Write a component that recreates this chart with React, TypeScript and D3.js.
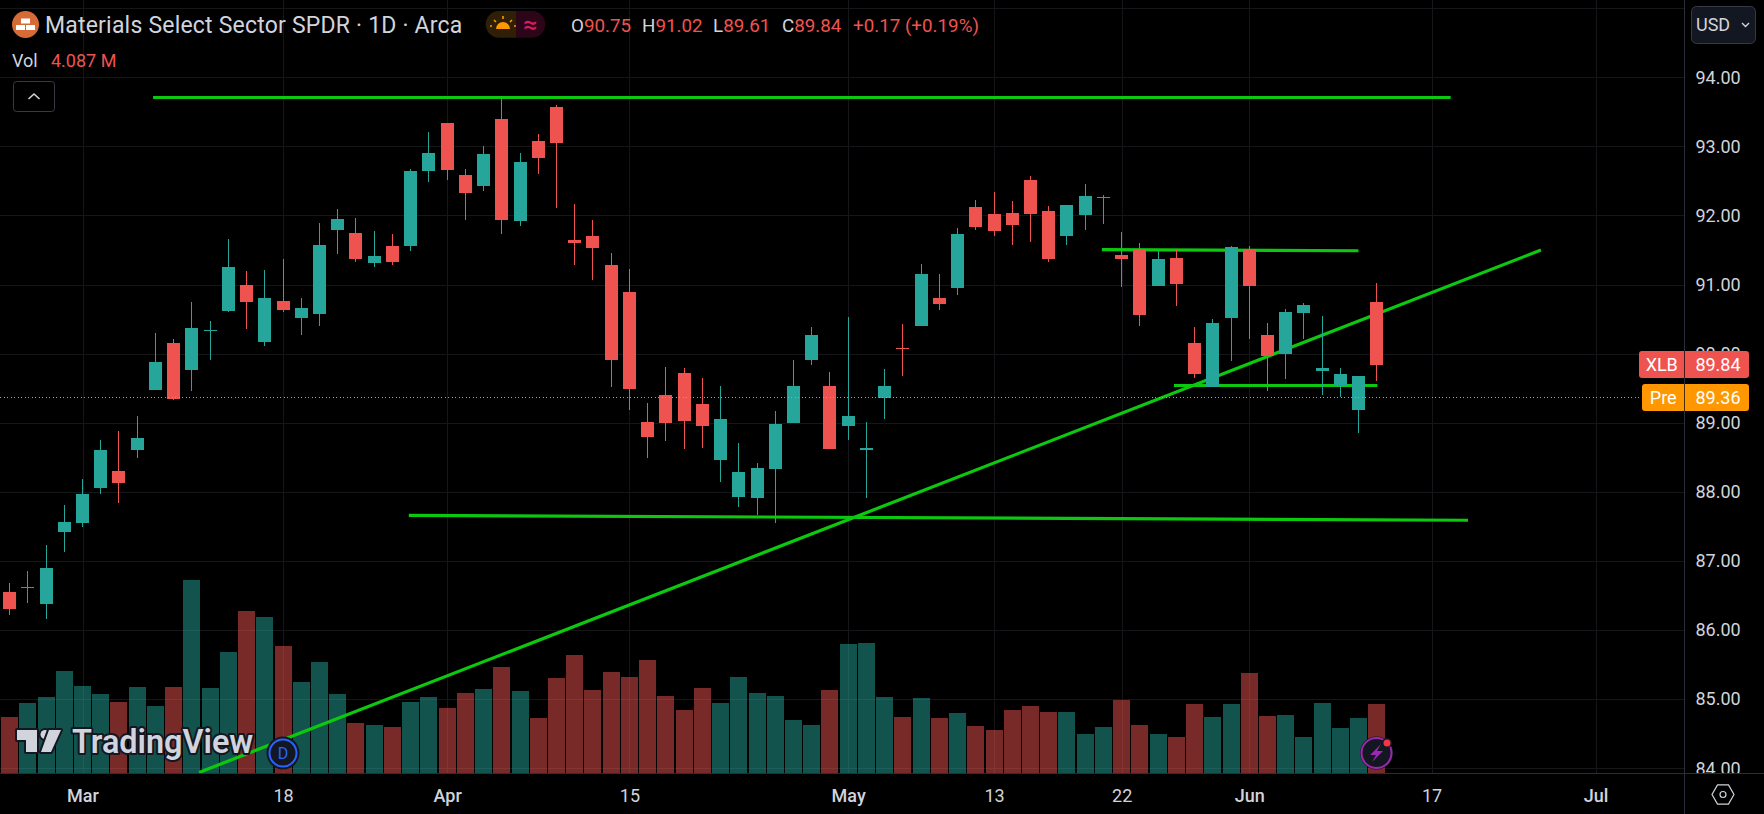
import React, { useEffect, useRef } from "react";
import * as d3 from "d3";

const opens = [
  86.55, 86.63, 86.38, 87.42, 87.55, 88.06, 88.3, 88.61, 89.48, 90.16,
  89.76, 90.35, 90.62, 91.0, 90.17, 90.76, 90.52, 90.57, 91.79, 91.75,
  91.31, 91.56, 91.56, 92.64, 93.34, 92.59, 92.43, 93.4, 91.92, 93.08,
  93.57, 91.65, 91.7, 91.28, 90.89, 89.01, 89.4, 89.72, 89.27, 88.46,
  87.93, 87.91, 88.33, 89.0, 89.91, 89.53, 88.95, 88.6, 89.36, 90.08,
  90.4, 90.81, 90.95, 92.12, 92.02, 92.04, 92.51, 92.07, 91.7, 92.01,
  92.27, 91.43, 91.52, 90.98, 91.39, 90.16, 89.52, 90.52, 91.52, 90.27,
  90.0, 90.59, 89.75, 89.55, 89.19, 90.75,
];
const highs = [
  86.68, 86.86, 87.23, 87.81, 88.19, 88.75, 88.88, 89.1, 90.3, 90.21,
  90.75, 90.47, 91.66, 91.2, 91.21, 91.37, 90.81, 91.89, 92.09, 91.96,
  91.78, 91.73, 92.67, 93.21, 93.34, 92.67, 93.01, 93.73, 92.9, 93.18,
  93.6, 92.17, 91.94, 91.46, 91.23, 89.29, 89.81, 89.79, 89.65, 89.53,
  88.71, 88.42, 89.17, 89.91, 90.39, 89.74, 90.53, 89.01, 89.78, 90.43,
  91.3, 91.15, 91.82, 92.22, 92.34, 92.21, 92.57, 92.14, 92.15, 92.46,
  92.3, 91.76, 91.6, 91.49, 91.52, 90.39, 90.5, 91.56, 91.56, 90.44,
  90.65, 90.73, 90.55, 89.79, 89.68, 91.02,
];
const lows = [
  86.22, 86.39, 86.16, 87.13, 87.49, 87.97, 87.84, 88.49, 89.47, 89.33,
  89.46, 89.91, 90.61, 90.36, 90.11, 90.6, 90.27, 90.4, 91.44, 91.33,
  91.26, 91.28, 91.49, 92.49, 92.51, 91.94, 92.36, 91.73, 91.85, 92.6,
  92.11, 91.28, 91.07, 89.52, 89.19, 88.49, 88.74, 88.62, 88.64, 88.14,
  87.78, 87.67, 87.55, 89.0, 89.84, 88.62, 88.75, 87.91, 89.06, 89.68,
  90.4, 90.63, 90.85, 91.79, 91.7, 91.57, 91.62, 91.33, 91.57, 91.79,
  91.88, 90.97, 90.4, 90.98, 90.69, 89.65, 89.52, 89.89, 90.21, 89.46,
  89.63, 90.21, 89.4, 89.37, 88.85, 89.61,
];
const closes = [
  86.31, 86.63, 86.9, 87.57, 87.97, 88.61, 88.13, 88.78, 89.88, 89.35,
  90.37, 90.35, 91.26, 90.75, 90.81, 90.63, 90.66, 91.57, 91.95, 91.37,
  91.41, 91.33, 92.64, 92.9, 92.66, 92.33, 92.89, 91.94, 92.77, 92.83,
  93.05, 91.6, 91.53, 89.91, 89.49, 88.8, 89.0, 89.03, 88.95, 89.06,
  88.29, 88.35, 88.98, 89.53, 90.27, 88.62, 89.1, 88.63, 89.53, 90.07,
  91.15, 90.72, 91.73, 91.83, 91.78, 91.86, 92.02, 91.37, 92.15, 92.28,
  92.27, 91.37, 90.56, 91.37, 91.01, 89.71, 90.44, 91.54, 90.98, 89.97,
  90.6, 90.71, 89.79, 89.71, 89.68, 89.84,
];
// millions of shares
const volumes = [
  3.3, 4.13, 4.48, 6.01, 5.13, 4.66, 4.18, 5.07, 3.95, 5.07,
  11.38, 5.01, 7.13, 9.55, 9.19, 7.49, 5.36, 6.54, 4.66, 2.95,
  2.83, 2.71, 4.18, 4.48, 3.83, 4.72, 4.95, 6.25, 4.83, 3.24,
  5.6, 6.95, 4.89, 5.97, 5.68, 6.68, 4.56, 3.73, 5.03, 4.15,
  5.68, 4.73, 4.56, 3.14, 2.85, 4.91, 7.62, 7.68, 4.5, 3.32,
  4.44, 3.26, 3.56, 2.79, 2.55, 3.73, 3.97, 3.61, 3.61, 2.32,
  2.73, 4.32, 2.85, 2.32, 2.14, 4.09, 3.32, 4.09, 5.91, 3.38,
  3.44, 2.14, 4.15, 2.67, 3.26, 4.087,
];

const dateTickBars = [4, 15, 24, 34, 46, 54, 61, 68, 78, 87];
const dateTickLabels = ["Mar", "18", "Apr", "15", "May", "13", "22", "Jun", "17", "Jul"];
const priceTicks = [94, 93, 92, 91, 90, 89, 88, 87, 86, 85, 84];

// hand drawn lines: [bar, price, bar, price]
const drawings = [
  [7.87, 93.708, 79.05, 93.708],
  [21.9, 87.66, 80.0, 87.59],
  [10.39, 83.94, 84.0, 91.5],
  [59.92, 91.505, 73.99, 91.49],
  [63.87, 89.54, 75.03, 89.54],
];

const lastClose = 89.84;
const prePrice = 89.36;

const WIDTH = 1764;
const HEIGHT = 814;
const AXIS_X = 1684.5;
const AXIS_Y = 773.5;
const UP = "#26a69a";
const DOWN = "#ef5350";
const TEXT = "#d1d4dc";
const GRID = "#15161a";
const FONT = "Roboto, sans-serif";

const App = () => {
  const svgRef = useRef<SVGSVGElement>(null);

  useEffect(() => {
    const svg = d3.select(svgRef.current);
    svg.selectAll("*").remove();

    const x = d3.scaleLinear().domain([0, 75]).range([9.6, 1376.85]);
    const y = d3.scaleLinear().domain([84, 94]).range([768.3, 77.3]);
    const yVol = d3.scaleLinear().domain([0, 11.38]).range([773, 580]);

    const defs = svg.append("defs");
    defs.append("clipPath").attr("id", "pane").append("rect")
      .attr("width", AXIS_X).attr("height", AXIS_Y);
    defs.append("clipPath").attr("id", "priceScale").append("rect")
      .attr("x", AXIS_X).attr("width", WIDTH - AXIS_X).attr("height", AXIS_Y);

    svg.append("rect").attr("width", WIDTH).attr("height", HEIGHT).attr("fill", "#000");

    // grid
    const grid = svg.append("g").attr("clip-path", "url(#pane)")
      .attr("stroke", GRID).attr("shape-rendering", "crispEdges");
    grid.selectAll("line.h").data([95, ...priceTicks]).enter().append("line")
      .attr("x1", 0).attr("x2", AXIS_X)
      .attr("y1", (d) => Math.round(y(d)) + 0.5).attr("y2", (d) => Math.round(y(d)) + 0.5);
    grid.selectAll("line.v").data(dateTickBars).enter().append("line")
      .attr("y1", 0).attr("y2", AXIS_Y)
      .attr("x1", (d) => Math.round(x(d)) + 0.5).attr("x2", (d) => Math.round(x(d)) + 0.5);

    const isUp = (i: number) => closes[i] >= opens[i];

    // volume
    svg.append("g").attr("shape-rendering", "crispEdges").selectAll("rect")
      .data(volumes).enter().append("rect")
      .attr("x", (_, i) => Math.round(x(i) - 8.5))
      .attr("width", 17)
      .attr("y", (d) => yVol(d))
      .attr("height", (d) => yVol(0) - yVol(d))
      .attr("fill", (_, i) => (isUp(i) ? UP : DOWN))
      .attr("fill-opacity", 0.5);

    // drawings sit under the candles
    svg.append("g").attr("clip-path", "url(#pane)").selectAll("line")
      .data(drawings).enter().append("line")
      .attr("x1", (d) => x(d[0])).attr("y1", (d) => y(d[1]))
      .attr("x2", (d) => x(d[2])).attr("y2", (d) => y(d[3]))
      .attr("stroke", "#0cc80f").attr("stroke-width", 3.2);

    // candles
    const candles = svg.append("g").attr("shape-rendering", "crispEdges")
      .selectAll("g").data(opens).enter().append("g");
    candles.append("rect")
      .attr("x", (_, i) => Math.round(x(i) - 6.5) + 6)
      .attr("width", 1)
      .attr("y", (_, i) => Math.round(y(highs[i])))
      .attr("height", (_, i) => Math.max(1, Math.round(y(lows[i])) - Math.round(y(highs[i]))))
      .attr("fill", (_, i) => (isUp(i) ? UP : DOWN));
    candles.append("rect")
      .attr("x", (_, i) => Math.round(x(i) - 6.5))
      .attr("width", 13)
      .attr("y", (_, i) => Math.round(y(Math.max(opens[i], closes[i]))))
      .attr("height", (_, i) => Math.max(1, Math.round(y(Math.min(opens[i], closes[i]))) - Math.round(y(Math.max(opens[i], closes[i])))))
      .attr("fill", (_, i) => (isUp(i) ? UP : DOWN));

    // premarket price line
    svg.append("line")
      .attr("x1", 0).attr("x2", AXIS_X)
      .attr("y1", Math.floor(y(prePrice)) + 0.5).attr("y2", Math.floor(y(prePrice)) + 0.5)
      .attr("stroke", "#ff9800").attr("stroke-dasharray", "1 2.5").attr("shape-rendering", "crispEdges");

    // axes
    const yAxis = d3.axisRight(y).tickValues(priceTicks).tickFormat((d) => d3.format(".2f")(d as number)).tickSize(0).tickPadding(11);
    svg.append("g").attr("clip-path", "url(#priceScale)")
      .append("g").attr("transform", `translate(${AXIS_X},0)`).call(yAxis as any)
      .call((g) => g.select(".domain").remove())
      .selectAll("text").attr("fill", TEXT).attr("font-size", 18).attr("font-family", FONT);

    const xTime = d3.scalePoint<number>().domain(d3.range(0, 88)).range([x(0), x(87)]);
    const xAxis = d3.axisBottom(xTime).tickValues(dateTickBars).tickSize(0).tickPadding(15.5)
      .tickFormat((d) => dateTickLabels[dateTickBars.indexOf(d as number)]);
    svg.append("g").attr("transform", `translate(0,${AXIS_Y})`).call(xAxis as any)
      .call((g) => g.select(".domain").remove())
      .selectAll("text").attr("fill", TEXT).attr("font-size", 18).attr("font-family", FONT)
      .attr("font-weight", (_, i) => (/[a-z]/.test(dateTickLabels[i]) ? 500 : 400));

    svg.append("line").attr("x1", AXIS_X).attr("x2", AXIS_X).attr("y1", 0).attr("y2", HEIGHT).attr("stroke", "#2a2e39");
    svg.append("line").attr("x1", 0).attr("x2", WIDTH).attr("y1", AXIS_Y).attr("y2", AXIS_Y).attr("stroke", "#2a2e39");

    // price tags
    const tag = (left: number, top: number, h: number, color: string, name: string, value: number) => {
      const g = svg.append("g");
      g.append("rect").attr("x", left).attr("y", top).attr("width", 1749 - left).attr("height", h).attr("rx", 3).attr("fill", color);
      g.append("line").attr("x1", AXIS_X).attr("x2", AXIS_X).attr("y1", top).attr("y2", top + h).attr("stroke", "#000").attr("stroke-opacity", 0.7);
      g.append("text").attr("x", (left + AXIS_X) / 2).attr("y", top + h / 2 + 6.5).attr("text-anchor", "middle")
        .attr("fill", "#fff").attr("font-size", 18).attr("font-family", FONT).text(name);
      g.append("text").attr("x", 1718).attr("y", top + h / 2 + 6.5).attr("text-anchor", "middle")
        .attr("fill", "#fff").attr("font-size", 18).attr("font-family", FONT).text(value.toFixed(2));
    };
    tag(1639, 351, 27, DOWN, "XLB", lastClose);
    tag(1642, 384, 27, "#ff9800", "Pre", prePrice);

    // header
    const logo = svg.append("g");
    logo.append("circle").attr("cx", 25.5).attr("cy", 24.5).attr("r", 13.5).attr("fill", "#d76b38");
    [[21, 18.5], [16, 25], [26, 25]].forEach(([bx, by]) => {
      logo.append("rect").attr("x", bx).attr("y", by).attr("width", 9).attr("height", 5).attr("fill", "#fff");
    });

    const label = (tx: number, ty: number, size: number, fill: string, s: string, weight = 400) =>
      svg.append("text").attr("x", tx).attr("y", ty).attr("font-size", size).attr("font-family", FONT)
        .attr("font-weight", weight).attr("fill", fill).text(s);

    label(45, 32.5, 23, TEXT, "Materials Select Sector SPDR · 1D · Arca").attr("letter-spacing", 0.2);

    svg.append("path").attr("d", "M516,11H499a13.3,13.3 0 0 0 0,26.7H516Z").attr("fill", "#2e1f06");
    svg.append("path").attr("d", "M516,11H532a13.3,13.3 0 0 1 0,26.7H516Z").attr("fill", "#2d0518");
    svg.append("path").attr("d", "M496,29a7,7 0 0 1 14,0Z").attr("fill", "#ff9800");
    svg.append("path").attr("d", "M503,16v3M494,20l2,2M512,20l-2,2M492,26h-2M516,26h-2")
      .attr("stroke", "#ff9800").attr("stroke-width", 1.6).attr("fill", "none");
    label(523, 33, 25, "#d81b60", "≈", 500);

    const ohlc = d3.zip(["O", "H", "L", "C"], ["90.75", "91.02", "89.61", "89.84"], ["571", "642", "713", "782"]);
    ohlc.forEach(([k, v, px]) => {
      const t = label(+px, 32, 18.8, TEXT, k);
      t.append("tspan").attr("fill", DOWN).text(v);
    });
    label(853, 32, 18.8, DOWN, "+0.17 (+0.19%)");

    label(12, 67, 18, TEXT, "Vol");
    label(51, 67, 18, DOWN, "4.087 M");

    svg.append("rect").attr("x", 13.5).attr("y", 81.5).attr("width", 41).attr("height", 30).attr("rx", 3)
      .attr("fill", "#000").attr("stroke", "#363a45");
    svg.append("path").attr("d", "M28.5,99L34,94L39.5,99").attr("fill", "none").attr("stroke", TEXT).attr("stroke-width", 1.6);

    // currency button
    svg.append("rect").attr("x", 1691.5).attr("y", 6.5).attr("width", 64).attr("height", 37).attr("rx", 5)
      .attr("fill", "#131722").attr("stroke", "#363a45");
    label(1696, 31, 18, TEXT, "USD");
    svg.append("path").attr("d", "M1742,23L1745.5,26.5L1749,23").attr("fill", "none").attr("stroke", TEXT).attr("stroke-width", 1.4);

    // settings hexagon
    svg.append("path").attr("d", d3.line()(d3.range(6).map((k) => {
      const a = (k * Math.PI) / 3;
      return [1723 + 11 * Math.cos(a), 794.5 + 11 * Math.sin(a)] as [number, number];
    })) + "Z").attr("fill", "none").attr("stroke", TEXT).attr("stroke-width", 1.2);
    svg.append("circle").attr("cx", 1723).attr("cy", 794.5).attr("r", 3).attr("fill", "none").attr("stroke", TEXT).attr("stroke-width", 1.2);

    // watermark
    const wm = svg.append("g").attr("fill", TEXT).attr("stroke", "#131722").attr("stroke-width", 4).attr("paint-order", "stroke").attr("stroke-linejoin", "round");
    wm.append("path").attr("d", "M17,730H37V752H26V740H17Z");
    wm.append("circle").attr("cx", 45).attr("cy", 734.5).attr("r", 4.5);
    wm.append("path").attr("d", "M49,730H61L51,752H41Z");
    wm.append("text").attr("x", 72).attr("y", 752.5).attr("font-size", 32.4).attr("font-weight", 600)
      .attr("font-family", FONT).text("TradingView");

    // D badge
    svg.append("circle").attr("cx", 283).attr("cy", 753).attr("r", 16.5).attr("fill", "#131722");
    svg.append("circle").attr("cx", 283).attr("cy", 753).attr("r", 13.5).attr("fill", "#131722").attr("stroke", "#2962ff").attr("stroke-width", 2);
    label(283, 759, 16, "#2962ff", "D").attr("text-anchor", "middle");

    // earnings badge
    svg.append("circle").attr("cx", 1376.5).attr("cy", 753).attr("r", 16.5).attr("fill", "#131722");
    svg.append("circle").attr("cx", 1376.5).attr("cy", 753).attr("r", 15).attr("fill", "#131722").attr("stroke", "#9c27b0").attr("stroke-width", 2);
    svg.append("path").attr("d", "M1381,744L1370,755H1376L1372,762L1383,751H1377Z").attr("fill", "#9c27b0");
    svg.append("circle").attr("cx", 1387).attr("cy", 743).attr("r", 5).attr("fill", "#131722");
    svg.append("circle").attr("cx", 1387).attr("cy", 743).attr("r", 3.5).attr("fill", "#f23645");
  }, []);

  return <svg ref={svgRef} width={WIDTH} height={HEIGHT} style={{ position: "absolute", left: 0, top: 0, display: "block" }} />;
};

export default App;
